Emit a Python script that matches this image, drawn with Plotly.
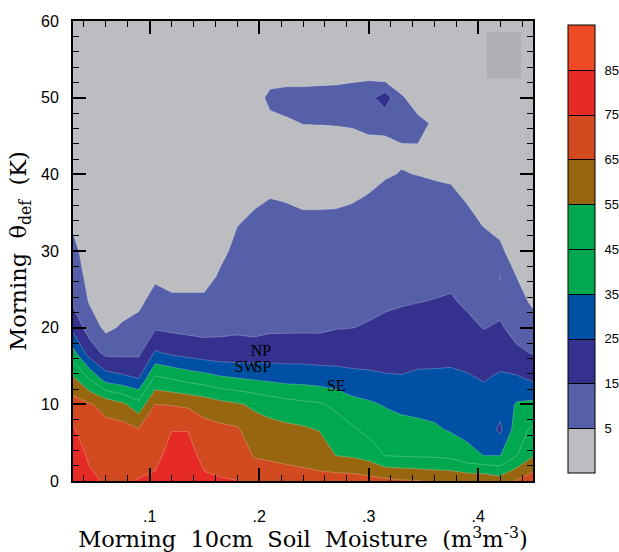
import numpy as np
import plotly.graph_objects as go

# ---------------- data ----------------
soil_moisture = [0.03, 0.045, 0.06, 0.075, 0.09, 0.105, 0.12, 0.135, 0.15, 0.165,
                 0.18, 0.195, 0.21, 0.225, 0.24, 0.255, 0.27, 0.285, 0.30, 0.315,
                 0.33, 0.345, 0.36, 0.375, 0.39, 0.405, 0.42, 0.435, 0.45]
theta_def = [0, 3.33, 6.67, 10, 13.33, 16.67, 20, 23.33, 26.67, 30, 33.33,
             36.67, 40, 43.33, 46.67, 50, 53.33, 56.67, 60]

# one list per soil-moisture column, values at each theta_def row (bottom -> top)
value_by_column = [
    [83, 80, 76, 69, 57, 38.5, 22, 13.5, 10.4, 7.2, 4.0, 2, 1, 1, 1, 1, 1, 1, 1],
    [77, 73.5, 69.6, 65.8, 44.8, 20.5, 10.5, 4.4, 2, 1, 1, 1, 1, 1, 1, 1, 1, 1, 1],
    [74, 71, 68, 62, 30.5, 12.7, 2.9, 1.5, 1, 1, 1, 1, 1, 1, 1, 1, 1, 1, 1],
    [73, 71, 69, 57, 27.6, 12.9, 6.2, 1, 1, 1, 1, 1, 1, 1, 1, 1, 1, 1, 1],
    [75.5, 70.6, 65.9, 48.6, 25.1, 13.2, 8.2, 3.1, 1, 1, 1, 1, 1, 1, 1, 1, 1, 1, 1],
    [76.5, 72.7, 68.8, 65, 47.4, 26.3, 13.8, 8.6, 3.5, 1, 1, 1, 1, 1, 1, 1, 1, 1, 1],
    [80, 78, 74.8, 64.5, 44.8, 23.5, 12.9, 7.2, 1.4, 1, 1, 1, 1, 1, 1, 1, 1, 1, 1],
    [80, 78, 74.8, 63.3, 41.9, 21.5, 12.3, 7.0, 1.7, 1, 1, 1, 1, 1, 1, 1, 1, 1, 1],
    [76.5, 72.5, 68.3, 61.1, 39.8, 19.9, 11.9, 6.9, 1.9, 1, 1, 1, 1, 1, 1, 1, 1, 1, 1],
    [75.6, 71.5, 67.4, 58, 36.9, 19.0, 12.8, 9.5, 6.3, 3.1, 1, 1, 1, 1, 1, 1, 1, 1, 1],
    [75.1, 70.7, 66.3, 56.1, 35.5, 18.8, 13.5, 11.4, 9.3, 7.1, 4.9, 2.9, 1, 1, 1, 1, 1, 1, 1],
    [69.5, 64.5, 59.5, 53.4, 34.2, 19.3, 12.5, 11.3, 9.6, 7.9, 6.2, 4.2, 1, 1, 1, 1, 1, 1, 1],
    [69, 63.9, 58.6, 50.6, 33.0, 20.1, 13.5, 12, 10.2, 8.5, 6.8, 5.1, 3.3, 1, 3, 7, 1, 1, 1],
    [68.5, 63.1, 57.5, 48.6, 31.7, 20.2, 13.5, 11.8, 10.0, 8.2, 6.5, 4.8, 3, 1, 4, 8, 1, 1, 1],
    [68, 62.3, 56.5, 47.2, 31.4, 20.3, 13.6, 11.8, 9.8, 7.9, 6.1, 4.3, 2.5, 1, 5.2, 8, 1, 1, 1],
    [67.5, 61.3, 54.6, 46.0, 30.5, 20, 13.6, 11.8, 9.8, 7.9, 6.1, 4.3, 2.5, 1, 5.3, 8.5, 1, 1, 1],
    [70, 54.9, 49.6, 43, 29.5, 20.4, 14.6, 12.5, 10.5, 8.4, 6.3, 4.3, 2, 1, 5.5, 9, 1, 1, 1],
    [69.7, 53.8, 46.4, 38.3, 28, 20.6, 14.9, 12.8, 10.8, 8.8, 6.8, 4.7, 2.7, 1, 6, 10, 1.5, 1, 1],
    [68.5, 51.3, 42.3, 36.5, 27.2, 20.8, 15.6, 13.3, 11.4, 9.4, 7.4, 5.5, 3.5, 2, 7.5, 12, 1.5, 1, 1],
    [67.4, 44.7, 39.6, 34.3, 26.1, 21.2, 16.7, 13.9, 12.0, 10.2, 8.3, 6.5, 4.6, 2, 8, 20, -4, 1, 1],
    [66, 44.3, 38.6, 32.5, 25.7, 21.5, 17.7, 14.4, 12.6, 10.7, 8.9, 7.1, 5.2, 4.2, 8, 6, -2, 1, 1],
    [65.3, 43.8, 37.7, 31.9, 26.6, 22.3, 18.6, 14.9, 12.9, 11.0, 9.0, 7.0, 4.9, 4.5, 7, 1, 1, 1, 1],
    [64, 43.5, 36.5, 31.3, 26.6, 22.6, 19.0, 15.3, 13.0, 10.9, 8.8, 6.6, 4.5, 3.5, 4, 1, 1, 1, 1],
    [63.5, 42.6, 34.1, 30.4, 26.7, 22.9, 19.4, 15.9, 13.3, 11.0, 8.7, 6.4, 4.1, 2, 1, 1, 1, 1, 1],
    [63, 37.5, 32.7, 29.3, 26, 21.7, 17.1, 13.7, 11.5, 9.2, 6.9, 4.6, 2, 1, 1, 1, 1, 1, 1],
    [63, 34.9, 31.5, 28.1, 24.5, 19.4, 14.7, 12.3, 9.9, 7.5, 4.8, 4.5, 2, 1, 1, 1, 1, 1, 1],
    [60, 34.7, 23, 29, 26.3, 21.8, 16.0, 12.5, 15.3, 6.3, 3.2, 1, 1, 1, 1, 1, 1, 1, 1],
    [66, 44.6, 40.2, 35.9, 26.5, 16.6, 12.0, 8.5, 4.9, 1.5, 1, 1, 1, 1, 1, 1, 1, 1, 1],
    [71, 54.1, 47.0, 37.3, 23.5, 14.6, 9.1, 3.6, 1, 1, 1, 1, 1, 1, 1, 1, 1, 1, 1],
]

level_start, level_end, level_step = 5, 85, 10
colorbar_ticks = [5, 15, 25, 35, 45, 55, 65, 75, 85]
colorbar_range = [-5, 95]
band_colors = ["#BCBDC1", "#5560A8", "#34318F", "#0050A5", "#00A84F",
               "#00A84F", "#97660F", "#D14A20", "#E62B26", "#EE4A26"]

region_names = ["NP", "SW", "SP", "SE"]
region_x = [0.2016, 0.1884, 0.2030, 0.2704]
region_y = [16.8, 14.8, 14.8, 12.2]

legend_box_x = [0.408, 0.439]
legend_box_y = [52.5, 58.6]

x_tick_vals = [0.1, 0.2, 0.3, 0.4]
x_tick_text = [".1", ".2", ".3", ".4"]

# ---------------- figure ----------------
z = np.array(value_by_column).T
n = len(band_colors)

# colour scale for the filled contours (band i is sampled at position i/(n-1))
fill_scale = []
for i, c in enumerate(band_colors):
    lo = max(0.0, (i - 0.5) / (n - 1))
    hi = min(1.0, (i + 0.5) / (n - 1))
    fill_scale += [[lo, c], [hi, c]]

# stepped scale for the colour bar: equal bands between colorbar_range
bar_scale = []
for i, c in enumerate(band_colors):
    bar_scale += [[i / n, c], [(i + 1) / n, c]]

contours_fill = dict(start=level_start, end=level_end, size=level_step, coloring="fill")
contours_bar = dict(start=level_start, end=level_end, size=level_step, coloring="heatmap")

fig = go.Figure()
# lower copy (hidden below the filled field): supplies the colour bar with black separators
fig.add_trace(go.Contour(
    x=soil_moisture, y=theta_def, z=z, contours=contours_bar, colorscale=bar_scale,
    zmin=colorbar_range[0], zmax=colorbar_range[1],
    line=dict(color="black", width=1, smoothing=0), showscale=True, hoverinfo="skip",
    colorbar=dict(x=1.077, xanchor="left", y=0.504, yanchor="middle", len=0.974,
                  lenmode="fraction", thickness=27, thicknessmode="pixels",
                  xpad=0, ypad=0, outlinewidth=1, outlinecolor="black",
                  tickmode="array", tickvals=colorbar_ticks, ticks="outside", ticklen=7,
                  tickcolor="rgba(0,0,0,0)",
                  tickfont=dict(family="Liberation Sans", size=13, color="black")),
))
# visible field with faint contour lines
fig.add_trace(go.Contour(
    x=soil_moisture, y=theta_def, z=z, contours=contours_fill, colorscale=fill_scale,
    line=dict(color="rgba(255,255,255,0.35)", width=0.7, smoothing=0),
    showscale=False,
))
fig.add_trace(go.Scatter(
    x=region_x, y=region_y, mode="text", text=region_names,
    textfont=dict(family="Liberation Serif", size=16, color="black"),
    showlegend=False, hoverinfo="skip",
))

fig.add_shape(type="rect", xref="x", yref="y",
              x0=legend_box_x[0], x1=legend_box_x[1],
              y0=legend_box_y[0], y1=legend_box_y[1],
              fillcolor="#AEAFB2", line=dict(width=0))

tickfont = dict(family="Liberation Sans", size=16, color="black")
titlefont = dict(family="DejaVu Serif", size=22.5, color="black")
sp = "\u00a0\u00a0"

fig.update_layout(
    width=619, height=552,
    margin=dict(l=73, r=86, t=21, b=71, autoexpand=False),
    paper_bgcolor="white", plot_bgcolor="white",
    showlegend=False,
    xaxis=dict(
        range=[0.03, 0.45], tickmode="array", tickvals=x_tick_vals, ticktext=x_tick_text,
        ticks="inside", ticklen=13, tickwidth=1.5, tickcolor="black",
        minor=dict(tick0=0, dtick=0.02, ticks="inside", ticklen=6, tickwidth=1, tickcolor="black"),
        showline=True, linecolor="black", linewidth=2, mirror="allticks",
        showgrid=False, zeroline=False, tickfont=tickfont, ticklabelstandoff=20,
        automargin=False,
        title=dict(text=f"Morning{sp}10cm{sp}Soil{sp}Moisture{sp}(m<sup>3</sup>m<sup>-3</sup>)",
                   font=titlefont, standoff=11),
    ),
    yaxis=dict(
        range=[0, 60], tick0=0, dtick=10,
        ticks="inside", ticklen=13, tickwidth=1.5, tickcolor="black",
        minor=dict(tick0=0, dtick=2, ticks="inside", ticklen=6, tickwidth=1, tickcolor="black"),
        showline=True, linecolor="black", linewidth=2, mirror="allticks",
        showgrid=False, zeroline=False, tickfont=tickfont, ticklabelstandoff=9,
        automargin=False,
        title=dict(text=f"Morning{sp}\u03b8<sub>def</sub>{sp}(K)", font=titlefont, standoff=8),
    ),
)

fig.write_html("out.html", config={"displayModeBar": False},
               post_script="document.body.style.margin='0';document.body.style.overflow='hidden';")
